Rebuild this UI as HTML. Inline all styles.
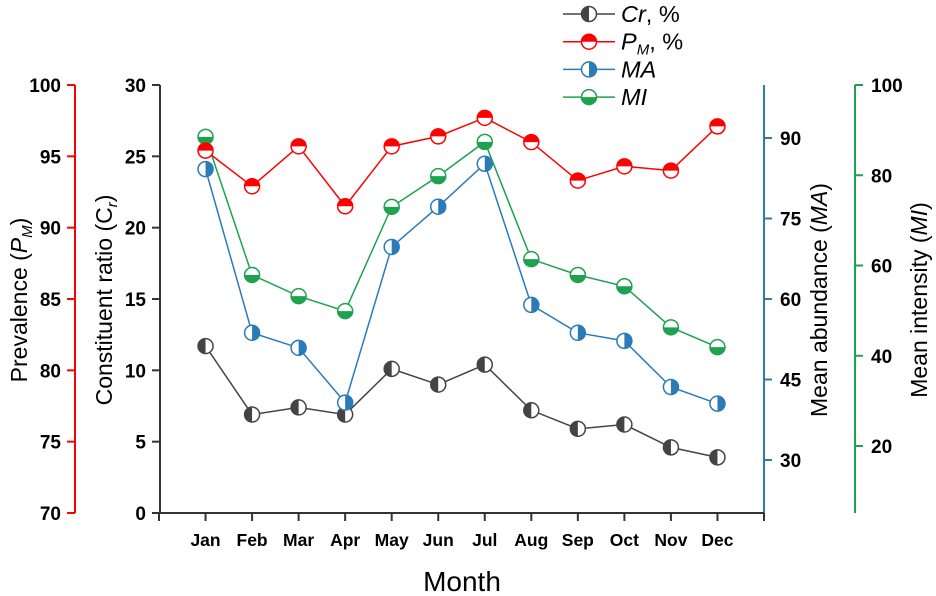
<!DOCTYPE html>
<html><head><meta charset="utf-8"><style>
body{margin:0;background:#fff}
svg{display:block;font-family:"Liberation Sans",Arial,sans-serif}
</style></head><body>
<svg id="chart" width="936" height="596" viewBox="0 0 936 596"></svg>
<script>
const months=["Jan","Feb","Mar","Apr","May","Jun","Jul","Aug","Sep","Oct","Nov","Dec"];
const crValues=[11.7,6.9,7.4,6.9,10.1,9.0,10.4,7.2,5.9,6.2,4.6,3.9];
const pmValues=[95.4,92.9,95.7,91.5,95.7,96.4,97.7,96.0,93.3,94.3,94.0,97.1];
const maValues=[84.2,53.7,50.9,40.7,69.7,77.2,85.2,58.9,53.7,52.2,43.6,40.5];
const miValues=[88.5,57.9,53.2,49.9,73.0,79.8,87.4,61.4,57.9,55.4,46.3,41.9];
const crTicks=[0,5,10,15,20,25,30];
const pmTicks=[70,75,80,85,90,95,100];
const maTicks=[30,45,60,75,90];
const miTicks=[20,40,60,80,100];

const NS="http://www.w3.org/2000/svg";
const svg=document.getElementById('chart');
function el(tag,attrs,parent){const e=document.createElementNS(NS,tag);for(const k in attrs)e.setAttribute(k,attrs[k]);(parent||svg).appendChild(e);return e;}
const yTop=85,yBot=513;
const xScale=i=>159+(i+1)*(764-159)/13;
const yCr=v=>yBot-(v/30)*(yBot-yTop);
const yPm=v=>yBot-((v-70)/30)*(yBot-yTop);
const yMa=v=>138+(90-v)*(322/60);
const yMi=v=>85+(100-v)*(361/80);
const RED="#ff0000",BLUE="#2b7bb9",GREEN="#1ea24f",DARK="#444444";

function vAxis(x,color,ticks,sc,side,name,lx){
  const g=el('g',{});
  
  
  el('line',{x1:x,y1:yTop,x2:x,y2:yBot,stroke:color,'stroke-width':2},g);
  ticks.forEach(t=>{
    const y=sc(t);
    el('line',{x1:x,y1:y,x2:x+side*8,y2:y,stroke:color,'stroke-width':2},g);
    const tx=el('text',{x:lx,y:y+7,'font-size':19,'font-weight':'bold','text-anchor':side<0?'end':'start',fill:'#000'},g);
    tx.textContent=t;
  });
}
vAxis(75,RED,pmTicks,yPm,-1,'prevalence-axis',61);
vAxis(160,'#333',crTicks,yCr,-1,'constituent-ratio-axis',146);
vAxis(764,BLUE,maTicks,yMa,1,'mean-abundance-axis',780);
vAxis(855,GREEN,miTicks,yMi,1,'mean-intensity-axis',871);

const xg=el('g',{});


el('line',{x1:159,y1:yBot,x2:764,y2:yBot,stroke:'#333','stroke-width':2},xg);
el('line',{x1:159,y1:yBot,x2:159,y2:yBot+8,stroke:'#333','stroke-width':2},xg);
el('line',{x1:764,y1:yBot,x2:764,y2:yBot+8,stroke:'#333','stroke-width':2},xg);
months.forEach((m,i)=>{
  const x=xScale(i);
  el('line',{x1:x,y1:yBot,x2:x,y2:yBot+8,stroke:'#333','stroke-width':2},xg);
  const t=el('text',{x:x,y:546,'font-size':17.5,'font-weight':'bold','text-anchor':'middle'},xg);
  t.textContent=m;
});
const xt=el('text',{x:462,y:591,'font-size':28,'text-anchor':'middle'});


xt.textContent='Month';

function vTitle(x,html,name){
  const t=el('text',{x:0,y:0,'font-size':23,'text-anchor':'middle',transform:`translate(${x},300) rotate(-90)`});
  
  
  t.innerHTML=html;
}
vTitle(27,'Prevalence (<tspan font-style="italic">P</tspan><tspan font-style="italic" font-size="15" dy="5">M</tspan><tspan dy="-5">)</tspan>','prevalence-title');
vTitle(112,'Constituent ratio (C<tspan font-size="15" dy="5" font-style="italic">r</tspan><tspan dy="-5">)</tspan>','constituent-ratio-title');
vTitle(827,'Mean abundance (<tspan font-style="italic">MA</tspan>)','mean-abundance-title');
vTitle(927,'Mean intensity (<tspan font-style="italic">MI</tspan>)','mean-intensity-title');

function marker(g,cx,cy,color,fill,half){
  const r=7.5;
  el('circle',{cx,cy,r,fill:'#fff',stroke:color,'stroke-width':1.5},g);
  let d;
  if(half==='left')d=`M${cx},${cy-r} A${r},${r} 0 0 0 ${cx},${cy+r} Z`;
  if(half==='right')d=`M${cx},${cy-r} A${r},${r} 0 0 1 ${cx},${cy+r} Z`;
  if(half==='top')d=`M${cx-r},${cy} A${r},${r} 0 0 1 ${cx+r},${cy} Z`;
  if(half==='bottom')d=`M${cx-r},${cy} A${r},${r} 0 0 0 ${cx+r},${cy} Z`;
  el('path',{d,fill:fill},g);
}
function series(vals,sc,color,fill,half,name){
  const g=el('g',{});
  
  
  const pts=vals.map((v,i)=>xScale(i)+','+sc(v)).join(' ');
  el('polyline',{points:pts,fill:'none',stroke:color,'stroke-width':1.5},g);
  vals.forEach((v,i)=>{
    const mg=el('g',{},g);
    
    
    marker(mg,xScale(i),sc(v),color,fill,half);
  });
}
series(crValues,yCr,DARK,DARK,'left','cr-series');
series(maValues,yMa,BLUE,BLUE,'right','ma-series');
series(miValues,yMi,GREEN,GREEN,'bottom','mi-series');
series(pmValues,yPm,RED,RED,'top','pm-series');

const leg=[['<tspan font-style="italic">Cr</tspan>, %',DARK,'left'],['<tspan font-style="italic">P</tspan><tspan font-style="italic" font-size="15" dy="5">M</tspan><tspan dy="-5">, %</tspan>',RED,'top'],['<tspan font-style="italic">MA</tspan>',BLUE,'right'],['<tspan font-style="italic">MI</tspan>',GREEN,'bottom']];
const lg=el('g',{});


leg.forEach((l,i)=>{
  const y=14+i*27.7;
  const g=el('g',{},lg);
  
  
  el('line',{x1:563,y1:y,x2:615,y2:y,stroke:l[1],'stroke-width':1.5},g);
  marker(g,589,y,l[1],l[1],l[2]);
  const t=el('text',{x:621,y:y+8,'font-size':23.5},g);
  t.innerHTML=l[0];
});
</script>
</body></html>
